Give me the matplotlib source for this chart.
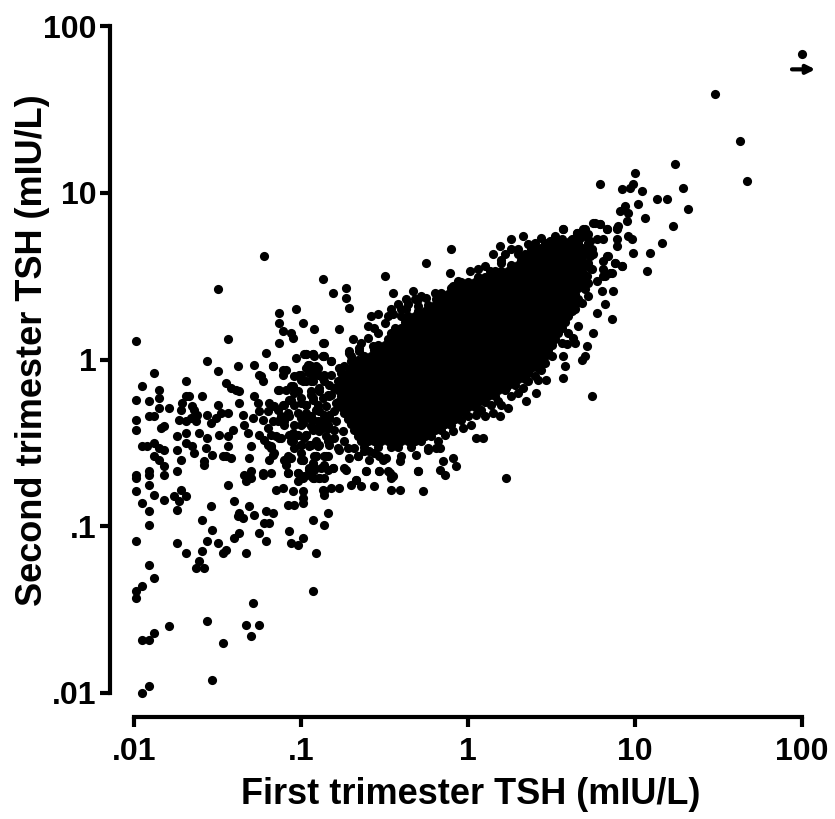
import matplotlib
matplotlib.use("Agg")
import matplotlib.pyplot as plt
import numpy as np

# everything is log10(TSH)
# (first trimester, second trimester)
low_tail = [
    (-1.99,.11),(-1.44,.12),(-1.56,-.01),(-1.88,-.08),(-1.50,-.07),(-1.38,-.04),(-1.28,-.03),(-1.17,-.04),
    (-1.21,.04),(-1.13,.10),(-1.11,.17),(-1.06,.16),(-1.05,.13),(-1.69,-.13),(-1.95,-.16),(-1.85,-.18),
    (-1.45,-.14),(-1.42,-.17),(-1.39,-.18),(-1.37,-.19),(-1.25,-.09),(-1.23,-.13),(-1.24,-.10),(-1.99,-.24),
    (-1.91,-.25),(-1.85,-.23),(-1.85,-.29),(-1.79,-.29),(-1.69,-.22),(-1.67,-.22),(-1.59,-.22),(-1.71,-.26),
    (-1.72,-.30),(-1.50,-.27),(-1.37,-.26),(-1.28,-.22),(-1.26,-.26),(-1.19,-.26),(-1.91,-.34),(-1.88,-.34),
    (-1.99,-.36),(-1.99,-.42),(-1.84,-.41),(-1.82,-.40),(-1.73,-.36),(-1.69,-.37),(-1.66,-.35),(-1.64,-.30),
    (-1.65,-.28),(-1.62,-.33),(-1.63,-.37),(-1.56,-.33),(-1.54,-.38),(-1.51,-.35),(-1.48,-.32),(-1.44,-.32),
    (-1.35,-.33),(-1.29,-.35),(-1.25,-.31),(-1.20,-.31),(-1.23,-.36),(-1.34,-.39),(-1.32,-.44),(-1.69,-.44),
    (-1.74,-.46),(-1.61,-.44),(-1.41,-.42),(-1.44,-.46),(-1.49,-.45),(-1.56,-.47),(-1.57,-.53),(-1.69,-.50),
    (-1.65,-.52),(-1.64,-.56),(-1.95,-.52),(-1.92,-.52),(-1.88,-.50),(-1.85,-.53),(-1.82,-.54),(-1.74,-.54),
    (-1.72,-.60),(-1.88,-.58),(-1.85,-.60),(-1.53,-.57),(-1.47,-.58),(-1.45,-.58),(-1.42,-.59),(-1.44,-.52),
    (-1.30,-.52),(-1.31,-.59),(-1.25,-.45),(-1.22,-.48),(-1.20,-.51),(-1.18,-.53),(-1.16,-.56),(-1.19,-.60),
    (-1.58,-.61),(-1.58,-.63),(-1.74,-.67),(-1.82,-.64),(-1.82,-.69),(-1.91,-.67),(-1.91,-.69),(-1.99,-.69),
    (-1.99,-.71),(-1.91,-.75),(-1.99,-.79),(-1.88,-.81),(-1.95,-.86),(-1.82,-.84),(-1.76,-.82),(-1.72,-.78),
    (-1.69,-.82),(-1.73,-.85),(-1.91,-.91),(-1.74,-.90),(-1.91,-.99),(-1.54,-.88),(-1.44,-.75),(-1.34,-.69),
    (-1.30,-.67),(-1.33,-.73),(-1.30,-.71),(-1.23,-.68),(-1.23,-.69),(-1.18,-.68),(-1.40,-.85),(-1.31,-.88),
    (-1.37,-.92),(-1.35,-.95),(-1.38,-.94),(-1.28,-.93),(-1.59,-.96),(-1.21,-.91),(-1.17,-.92),(-1.19,-.98),
    (-1.22,-.98),(-1.25,-1.04),(-1.37,-1.04),(-1.40,-1.07),(-1.53,-1.02),(-1.56,-1.09),(-1.50,-1.10),(-1.74,-1.10),
    (-1.99,-1.09),(-1.69,-1.16),(-1.59,-1.15),(-1.47,-1.16),(-1.45,-1.14),(-1.33,-1.16),(-1.61,-1.21),(-1.63,-1.25),
    (-1.58,-1.25),(-1.91,-1.23),(-1.88,-1.31),(-1.95,-1.36),(-1.99,-1.39),(-1.99,-1.43),(-1.21,-1.09),(-1.07,-1.03),
    (-.99,-1.07),(-1.06,-1.10),(-1.02,-1.11),(-.93,-.96),(-.86,-.99),(-.84,-.92),(-.91,-1.16),(-.93,-1.39),
    (-1.29,-1.46),(-1.56,-1.57),(-1.33,-1.59),(-1.25,-1.59),(-1.30,-1.66),(-1.47,-1.70),(-1.79,-1.60),(-1.88,-1.64),
    (-1.91,-1.68),(-1.95,-1.68),(-1.53,-1.92),(-1.91,-1.96),(-1.95,-2.00),(-1.15,-.78),(-1.11,-.77),(-1.05,-.79),
    (-.99,-.79),(-1.08,-.87),(-1.04,-.87),(-.99,-.86),(-.99,-.83),(-.86,-.81),(-.86,-.79),
    (-1.50,.42),(-1.22,.62),(-1.13,.28),(-1.13,.22),(-1.03,.30),(-.99,.22),
]

# left shoulder of the cloud, still separate dots
shoulder = [
    (-1.03,.01),(-.97,.03),(-.92,.02),(-.86,.02),(-.86,.10),(-.95,-.03),(-.90,-.05),(-.93,-.08),(-.86,-.09),
    (-1.09,-.06),(-1.11,-.09),(-1.01,-.09),(-.99,-.13),(-.93,-.13),(-.86,-.13),(-1.05,-.16),(-1.13,-.18),
    (-1.09,-.18),(-1.02,-.19),(-1.06,-.24),(-1.10,-.27),(-1.14,-.30),(-1.08,-.32),(-1.00,-.26),(-.94,-.21),
    (-.90,-.27),(-.84,-.21),(-.86,-.33),(-.94,-.34),(-1.00,-.35),(-1.14,-.37),(-1.10,-.37),(-1.20,-.41),
    (-1.15,-.46),(-1.12,-.47),(-1.05,-.44),(-1.06,-.49),(-1.00,-.51),(-.94,-.51),(-.97,-.45),(-.89,-.43),
    (-.84,-.39),(-.90,-.52),(-.84,-.49),(-1.04,-.53),(-1.00,-.56),(-1.06,-.59),(-1.09,-.61),(-.99,-.60),
    (-.91,-.58),(-.84,-.58),(-.93,-.63),(-.86,-.63),(-1.08,-.68),(-1.02,-.68),(-.98,-.70),(-1.02,-.73),
    (-.92,-.71),(-.86,-.71),(-.92,-.66),(-.84,-.66),
    (-.97,-.05),(-.94,-.04),(-.91,-.07),(-1.0,-.09),(-.94,-.13),(-.87,-.11),(-.82,-.09),(-.97,-.13),
    (-.89,-.19),(-.83,-.22),(-.97,-.27),(-.93,-.23),(-.89,-.31),(-.83,-.35),(-.95,-.35),(-.90,-.37),
    (-1.0,-.39),(-.87,-.41),(-.93,-.42),(-.98,-.47),(-.91,-.49),(-.83,-.49),(-.79,-.17),(-.75,-.23),
    (-.69,-.09),(-.84,-.41),(-.76,-.12),
    (-.98,.03),(-.93,.03),(-.87,.02),(-.82,-.01),(-.96,-.03),(-.91,-.04),(-.95,-.08),(-.90,-.09),(-1.04,-.10),
    (-1.0,-.12),(-1.11,-.06),(-1.17,-.04),(-.71,.05),(-.66,0),(-.65,.05),(-.87,-.11),(-.77,-.05),(-.83,-.15),
    (-.89,-.17),(-.94,-.19),(-1.06,-.16),(-1.14,-.18),(-1.04,-.20),(-1.0,-.23),(-1.07,-.24),(-1.11,-.27),
    (-1.16,-.28),(-1.04,-.27),(-.97,-.27),(-.93,-.24),(-.87,-.23),(-.82,-.21),(-.79,-.26),(-.85,-.28),(-.91,-.30),
    (-.97,-.32),(-1.02,-.32),(-1.07,-.34),(-1.12,-.34),(-1.17,-.37),(-1.10,-.39),(-1.04,-.39),(-.99,-.38),
    (-.93,-.36),(-.87,-.36),(-.83,-.33),(-.79,-.37),(-.84,-.41),(-.89,-.40),(-.94,-.40),(-.97,-.45),(-1.02,-.45),
    (-1.07,-.45),(-1.13,-.47),(-1.18,-.45),(-1.05,-.49),(-1.0,-.51),(-.95,-.52),(-.90,-.51),(-.85,-.46),(-.80,-.47),
    (-.75,-.43),(-.78,-.53),(-.83,-.51),(-1.18,-.52),(-1.17,-.57),(-1.10,-.60),(-1.08,-.58),(-1.0,-.60),(-.91,-.58),
    (-.86,-.58),(-.93,-.62),(-.95,-.66),(-.88,-.65),(-.81,-.65),(-.74,-.65),(-.71,-.59),(-.66,-.58),(-.61,-.67),
    (-.59,-.55),(-.53,-.58),(-.49,-.59),(-.53,-.67),(-.47,-.68),(-.45,-.70),(-.30,-.67),(-.40,-.58),(-.31,-.57),
    (-.19,-.53),(-.24,-.54),(-1.02,-.68),(-.99,-.71),(-1.08,-.68),(-.94,-.70),(-.89,-.71),(-.67,-.72),(-1.09,-.63),
    (-.78,-.13),(-.76,-.08),(-.74,-.04),(-.70,-.01),(-.80,-.17),(-.80,-.31),(-.80,-.42),(-.74,-.49),(-.72,-.53),
    (-.68,-.53),(-.62,-.55),(-.56,-.56),
]

# dots around the edge of the cloud
fringe = [
    (-.87,.48),(-.81,.40),(-.73,.43),(-.73,.37),(-.71,.31),(-.50,.50),(-.25,.58),(-.10,.66),(-.92,.18),(-.77,.18),
    (-.87,.10),(-.69,.12),(-.45,.40),(-.33,.41),(-.42,.33),(-.37,.36),(-.32,.36),(-.25,.37),(-.19,.36),(-.14,.38),
    (-.58,.26),(-.54,.27),(-.48,.26),(-.45,.27),(-.40,.26),(-.37,.30),(-.30,.32),(-.60,.20),(-.56,.19),(-.97,.03),
    (-.93,.03),(-.87,.02),(-.82,-.01),(-.71,.04),(-.65,.07),(-.67,-.02),(-.11,.52),(-.09,.44),(-.04,.46),(.01,.53),
    (.06,.54),(.13,.53),(.15,.63),(.19,.68),(.22,.63),(.26,.72),(.33,.74),(.36,.69),(.44,.73),(.49,.71),(.57,.78),
    (.65,.76),(.69,.78),(.75,.82),(.79,.81),(.83,.78),(.89,.79),(.92,.56),(.88,.58),(.83,.62),(.86,.52),(.82,.50),
    (.77,.47),(.80,.41),(.87,.41),(.82,.33),(.77,.28),(.86,.24),(.75,.16),(.66,.20),(.71,.08),(.63,.13),(.64,.10),
    (.59,.09),(.57,.02),(.70,.02),(.68,0),(.58,-.04),(.57,-.11),(.74,-.22),(.47,-.12),(.42,-.12),(.41,-.20),
    (.35,-.25),(.33,-.17),(.24,-.29),(.23,-.17),(.18,-.25),(.19,-.34),(.15,-.32),(.10,-.34),(.05,-.33),(.09,-.47),
    (.05,-.47),(.02,-.39),(-.03,-.41),(-.09,-.43),(-.17,-.53),(-.24,-.53),(-.09,-.59),(-.15,-.61),(-.07,-.64),
    (-.17,-.66),(-.14,-.69),(-.30,-.67),(.23,-.71),(-.46,-.71),(-.48,-.67),(-.53,-.67),(-.61,-.67),(-.41,-.61),
    (-.51,-.60),(-.59,-.60),(-.66,-.58),(-.81,-.65),(-.73,-.66),(-.77,-.54),(-.70,-.75),(-.67,-.72),(-.64,-.76),
    (-.56,-.76),(-.77,-.77),(-.82,-.77),(-.87,-.78),(-.46,-.78),(-.41,-.78),(-.27,-.79),(-.89,-.71),(-.93,-.71),
    (-.95,-.65),(-.92,-.58),(-.85,-.58),(-.89,-.51),(-.95,-.51),(-.99,-.60),(-1.0,-.71),
    (.72,.70),(.74,.66),(.73,.62),(.72,.58),(.74,.54),(.71,.50),(.72,.46),(.70,.42),(.72,.38),(.68,.34),(.64,.30),
    (.70,.74),(.62,.72),(.56,.72),(.52,.74),(.40,.70),(.38,.66),(.30,.66),(.26,.66),(.10,.56),(.20,.58),(-.06,.47),
    (-.20,.40),(-.28,.38),(-.10,.43),(-.16,.40),(-.30,.36),(-.36,.33),(-.40,.30),(-.46,.30),(-.50,.22),(-.54,.16),
    (-.60,.13),(-.64,.10),(-.57,.08),(-.70,.02),(.60,.16),(.56,.10),(.50,.02),(.46,-.02),(.44,-.06),(.40,-.10),
    (.36,-.13),(.30,-.20),(.26,-.22),(.20,-.27),(.14,-.27),(.08,-.30),(.00,-.34),(-.04,-.36),(-.10,-.39),(-.14,-.45),
    (-.18,-.49),
]

high_tail = [
    (2.00,1.83),(1.48,1.59),(1.63,1.31),(1.67,1.07),(1.24,1.17),(1.29,1.03),(1.32,.90),(1.23,.80),(1.16,.70),
    (1.09,.64),(1.07,.53),(.99,.64),(1.00,1.12),(.79,1.05),(.92,1.02),(.97,1.03),(.99,1.05),(1.04,1.01),(1.02,.93),
    (1.13,.96),(1.19,.96),(1.06,.85),(.91,.89),(.94,.92),(.96,.88),(.95,.83),(.90,.80),(.89,.78),(.96,.74),(.98,.72),
    (.92,.56),(.88,.58),(.84,.62),(.89,.68),(.89,.72),(.83,.78),(.79,.81),(.76,.82),(.70,.78),(.65,.76),(.57,.78),
    (.81,.72),(.77,.72),(.73,.71),(.85,.52),(.81,.50),(.81,.54),(.81,.59),(.75,.63),(.73,.55),(.67,.73),(.61,.71),
    (.71,.65),(.67,.59),(.72,.75),
]

# the solid part of the cloud: dots overlap too much to read one by one,
# so these are estimates, one row per second trimester level
core_second = [.70,.666,.632,.598,.564,.53,.496,.462,.428,.394,.36,.326,.292,.258,.224,.19,.156,.122,.088,.054,.02,
               -.014,-.048,-.082,-.116,-.15,-.184,-.218,-.252,-.286,-.32,-.354,-.388,-.422,-.456,-.49,-.524]
core_first = [
    [.46,.50,.54,.58,.62,.66],
    [.40,.44,.48,.52,.56,.60,.64,.68],
    [.30,.34,.38,.42,.46,.50,.54,.58,.62,.66,.70],
    [.20,.32,.36,.40,.44,.48,.52,.56,.60,.64,.68],
    [.26,.30,.34,.38,.42,.46,.50,.54,.58,.62,.66,.70],
    [.16,.20,.24,.28,.32,.36,.40,.44,.48,.52,.56,.60,.64,.68],
    [.06,.10,.14,.18,.22,.26,.30,.34,.38,.42,.46,.50,.54,.58,.62,.66,.70],
    [-.04,.00,.04,.08,.12,.16,.20,.24,.28,.32,.36,.40,.44,.48,.52,.56,.60,.64,.68],
    [-.06,-.02,.02,.06,.10,.14,.18,.22,.26,.30,.34,.38,.42,.46,.50,.54,.58,.62,.66],
    [-.12,-.08,-.04,.00,.04,.08,.12,.16,.20,.24,.28,.32,.36,.40,.44,.48,.52,.56,.60,.64],
    [-.18,-.14,-.10,-.06,-.02,.02,.06,.10,.14,.18,.22,.26,.30,.34,.38,.42,.46,.50,.54,.58,.62,.66],
    [-.24,-.20,-.16,-.12,-.08,-.04,.00,.04,.08,.12,.16,.20,.24,.28,.32,.36,.40,.44,.48,.52,.56,.60,.64],
    [-.30,-.26,-.22,-.18,-.14,-.10,-.06,-.02,.02,.06,.10,.14,.18,.22,.26,.30,.34,.38,.42,.46,.50,.54,.58,.62],
    [-.36,-.32,-.28,-.24,-.20,-.16,-.12,-.08,-.04,.00,.04,.08,.12,.16,.20,.24,.28,.32,.36,.40,.44,.48,.52,.56,.60],
    [-.38,-.34,-.30,-.26,-.22,-.18,-.14,-.10,-.06,-.02,.02,.06,.10,.14,.18,.22,.26,.30,.34,.38,.42,.46,.50,.54,.58],
    [-.44,-.40,-.36,-.32,-.28,-.24,-.20,-.16,-.12,-.08,-.04,.00,.04,.08,.12,.16,.20,.24,.28,.32,.36,.40,.44,.48,.52,.56],
    [-.46,-.42,-.38,-.34,-.30,-.26,-.22,-.18,-.14,-.10,-.06,-.02,.02,.06,.10,.14,.18,.22,.26,.30,.34,.38,.42,.46,.50,.54],
    [-.48,-.44,-.40,-.36,-.32,-.28,-.24,-.20,-.16,-.12,-.08,-.04,.00,.04,.08,.12,.16,.20,.24,.28,.32,.36,.40,.44,.48,.52],
    [-.54,-.50,-.46,-.42,-.38,-.34,-.30,-.26,-.22,-.18,-.14,-.10,-.06,-.02,.02,.06,.10,.14,.18,.22,.26,.30,.34,.38,.42,.46,.50],
    [-.56,-.52,-.48,-.44,-.40,-.36,-.32,-.28,-.24,-.20,-.16,-.12,-.08,-.04,.00,.04,.08,.12,.16,.20,.24,.28,.32,.36,.40,.44,.48],
    [-.62,-.58,-.54,-.50,-.46,-.42,-.38,-.34,-.30,-.26,-.22,-.18,-.14,-.10,-.06,-.02,.02,.06,.10,.14,.18,.22,.26,.30,.34,.38,.42,.46],
    [-.64,-.60,-.56,-.52,-.48,-.44,-.40,-.36,-.32,-.28,-.24,-.20,-.16,-.12,-.08,-.04,.00,.04,.08,.12,.16,.20,.24,.28,.32,.36,.40,.44],
    [-.70,-.66,-.62,-.58,-.54,-.50,-.46,-.42,-.38,-.34,-.30,-.26,-.22,-.18,-.14,-.10,-.06,-.02,.02,.06,.10,.14,.18,.22,.26,.30,.34,.38,.42],
    [-.72,-.68,-.64,-.60,-.56,-.52,-.48,-.44,-.40,-.36,-.32,-.28,-.24,-.20,-.16,-.12,-.08,-.04,.00,.04,.08,.12,.16,.20,.24,.28,.32,.36],
    [-.74,-.70,-.66,-.62,-.58,-.54,-.50,-.46,-.42,-.38,-.34,-.30,-.26,-.22,-.18,-.14,-.10,-.06,-.02,.02,.06,.10,.14,.18,.22,.26,.30,.34],
    [-.76,-.72,-.68,-.64,-.60,-.56,-.52,-.48,-.44,-.40,-.36,-.32,-.28,-.24,-.20,-.16,-.12,-.08,-.04,.00,.04,.08,.12,.16,.20,.24,.28],
    [-.78,-.74,-.70,-.66,-.62,-.58,-.54,-.50,-.46,-.42,-.38,-.34,-.30,-.26,-.22,-.18,-.14,-.10,-.06,-.02,.02,.06,.10,.14,.18,.22],
    [-.76,-.72,-.68,-.64,-.60,-.56,-.52,-.48,-.44,-.40,-.36,-.32,-.28,-.24,-.20,-.16,-.12,-.08,-.04,.00,.04,.08,.12,.16],
    [-.78,-.74,-.70,-.66,-.62,-.58,-.54,-.50,-.46,-.42,-.38,-.34,-.30,-.26,-.22,-.18,-.14,-.10,-.06,-.02,.02,.06,.10],
    [-.76,-.72,-.68,-.64,-.60,-.56,-.52,-.48,-.44,-.40,-.36,-.32,-.28,-.24,-.20,-.16,-.12,-.08,-.04,.00,.04],
    [-.74,-.70,-.66,-.62,-.58,-.54,-.50,-.46,-.42,-.38,-.34,-.30,-.26,-.22,-.18,-.14,-.10,-.06,-.02],
    [-.72,-.68,-.64,-.60,-.56,-.52,-.48,-.44,-.40,-.36,-.32,-.28,-.24,-.20,-.16,-.12,-.08],
    [-.70,-.66,-.62,-.58,-.54,-.50,-.46,-.42,-.38,-.34,-.30,-.26,-.22,-.18,-.14],
    [-.68,-.64,-.60,-.56,-.52,-.48,-.44,-.40,-.36,-.32,-.28,-.24,-.20,-.16],
    [-.66,-.62,-.58,-.54,-.50,-.46,-.42,-.38,-.34,-.30,-.26,-.22],
    [-.64,-.60,-.56,-.52,-.48,-.44,-.40,-.36,-.32,-.28],
    [-.62,-.54,-.46,-.42,-.34],
]

tick_values = [.01, .1, 1, 10, 100]
tick_labels = [".01", ".1", "1", "10", "100"]

plt.rcParams["font.family"] = ["Liberation Sans", "DejaVu Sans"]
plt.rcParams["font.weight"] = "bold"

fig = plt.figure(figsize=(8.35, 8.19), dpi=100)
ax = fig.add_axes([134 / 835, 1 - 693 / 819, 668 / 835, 667 / 819])

core = [(x, y) for y, row in zip(core_second, core_first) for x in row]
dots = 10 ** np.array(low_tail + shoulder + fringe + high_tail + core)
ax.plot(dots[:, 0], dots[:, 1], "o", color="black", ms=6.6, mew=0, clip_on=False)

ax.set_xscale("log")
ax.set_yscale("log")
ax.set_xlim(.01, 100)
ax.set_ylim(.01, 100)
ax.set_xticks(tick_values, tick_labels)
ax.set_yticks(tick_values, tick_labels)
ax.minorticks_off()
ax.tick_params(length=7, width=3, labelsize=23)
ax.tick_params(axis="x", pad=8)
ax.tick_params(axis="y", pad=3)

ax.spines[["top", "right"]].set_visible(False)
for side in ["left", "bottom"]:
    ax.spines[side].set_linewidth(3)
    ax.spines[side].set_position(("outward", 17))

# arrow for the value off the x scale
ax.annotate("", xy=(10 ** 2.08, 10 ** 1.74), xytext=(10 ** 1.94, 10 ** 1.74), annotation_clip=False,
            arrowprops=dict(arrowstyle="-|>,head_length=0.5,head_width=0.25", color="black", lw=3,
                            shrinkA=0, shrinkB=0))

fig.text(471 / 835, 1 - 795 / 819, "First trimester TSH (mIU/L)", ha="center", va="center", fontsize=26)
fig.text(33 / 835, 1 - 350 / 819, "Second trimester TSH (mIU/L)", ha="center", va="center",
         rotation=90, fontsize=26)

fig.savefig("out.png", dpi=100)
